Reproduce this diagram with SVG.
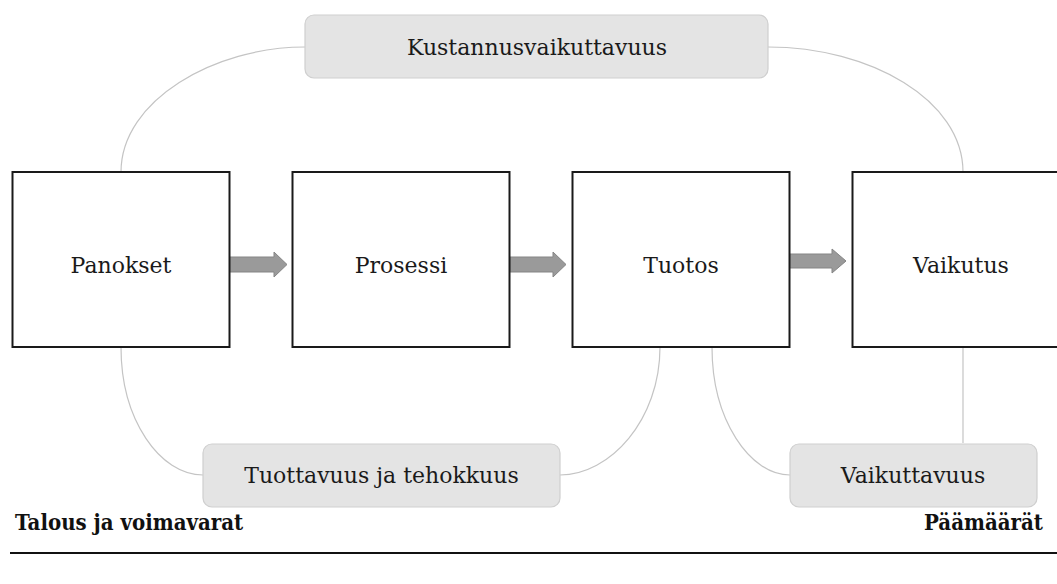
<svg xmlns="http://www.w3.org/2000/svg" width="1057" height="584" viewBox="0 0 1057 584">
  <style>
    .box { fill: #ffffff; stroke: #1a1a1a; stroke-width: 2; }
    .tag { fill: #e4e4e4; stroke: #cfcfcf; stroke-width: 1.2; }
    .lbl { font-family: "DejaVu Serif", "Liberation Serif", serif; font-size: 22px; fill: #1a1a1a; text-anchor: middle; }
    .axis { font-family: "DejaVu Serif", "Liberation Serif", serif; font-size: 22px; font-weight: bold; fill: #111; font-stretch: condensed; }
    .conn { fill: none; stroke: #c4c4c4; stroke-width: 1.2; }
    .arr { fill: #9a9a9a; stroke: #858585; stroke-width: 1; }
  </style>
  <rect width="1057" height="584" fill="#ffffff"/>

  <g id="connectors">
    <path class="conn" d="M121,172 C121,100 215,47 305,47"/>
    <path class="conn" d="M768,47 C870,47 963,100 963,172"/>
    <path class="conn" d="M121,347 C121,420 160,475 203,475"/>
    <path class="conn" d="M660,347 C660,420 610,475 560,475"/>
    <path class="conn" d="M712,347 C712,420 750,475 790,475"/>
    <path class="conn" d="M963,347 L963,443"/>
    <polygon class="arr" points="229,257 274,257 274,252 287,264.5 274,277 274,272 229,272"/>
    <polygon class="arr" points="510,257 553,257 553,252 566,264.5 553,277 553,272 510,272"/>
    <polygon class="arr" points="789,254 832,254 832,249 846,261 832,273 832,268 789,268"/>
  </g>

  <g id="node-kustannusvaikuttavuus">
    <rect class="tag" x="305" y="15" width="463" height="63" rx="9"/>
    <text class="lbl" x="537" y="55">Kustannusvaikuttavuus</text>
  </g>

  <g id="node-panokset">
    <rect class="box" x="12.5" y="172" width="217" height="175"/>
    <text class="lbl" x="121" y="273">Panokset</text>
  </g>
  <g id="node-prosessi">
    <rect class="box" x="292.5" y="172" width="217" height="175"/>
    <text class="lbl" x="401" y="273">Prosessi</text>
  </g>
  <g id="node-tuotos">
    <rect class="box" x="572.5" y="172" width="217" height="175"/>
    <text class="lbl" x="681" y="273">Tuotos</text>
  </g>
  <g id="node-vaikutus">
    <rect class="box" x="852.5" y="172" width="217" height="175"/>
    <text class="lbl" x="961" y="273">Vaikutus</text>
  </g>

  <g id="node-tuottavuus">
    <rect class="tag" x="203" y="444" width="357" height="63" rx="9"/>
    <text class="lbl" x="381.5" y="483">Tuottavuus ja tehokkuus</text>
  </g>
  <g id="node-vaikuttavuus">
    <rect class="tag" x="790" y="444" width="247" height="63" rx="9"/>
    <text class="lbl" x="913" y="483">Vaikuttavuus</text>
  </g>

  <g id="axis">
    <text class="axis" x="15" y="530">Talous ja voimavarat</text>
    <text class="axis" x="1043" y="530" text-anchor="end">Päämäärät</text>
    <line x1="10" y1="553" x2="1057" y2="553" stroke="#111" stroke-width="2"/>
  </g>
</svg>
